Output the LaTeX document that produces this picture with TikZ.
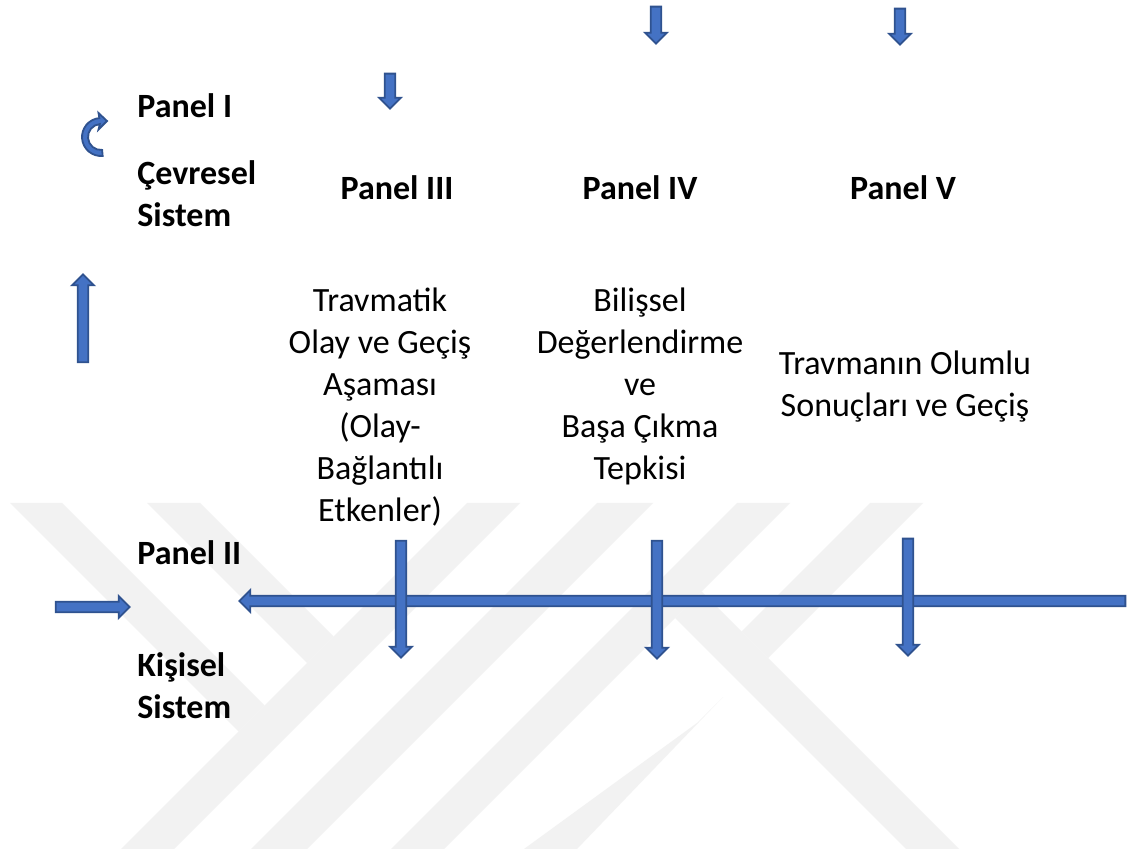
\documentclass[tikz,border=0pt]{standalone}
\usepackage{fontspec}
\setmainfont{Carlito}
\usetikzlibrary{shapes.arrows}
\definecolor{arrowfill}{HTML}{4472C4}
\definecolor{arrowline}{HTML}{2F528F}
\begin{document}
\begin{tikzpicture}[
  x=0.5pt, y=-0.5pt,
  font=\fontsize{17}{21}\selectfont,
  lbl/.style={inner sep=0pt, align=left, font=\fontsize{17}{21}\selectfont\bfseries},
  txt/.style={inner sep=0pt, align=center},
  blk/.style={single arrow, draw=arrowline, fill=arrowfill, line width=0.9pt,
              inner sep=2.2pt, single arrow head extend=2.8pt, outer sep=0pt},
  wm/.style={fill=black!5}
]
\useasboundingbox (0,0) rectangle (1129,849);
\fill[white] (0,0) rectangle (1129,849);
\fill[wm] (467,503) -- (520,503) -- (174,849) -- (121,849) -- cycle;
\fill[wm] (10,503) -- (62,503) -- (264.5,705.5) -- (238.5,731.5) -- cycle;
\fill[wm] (147,503) -- (200,503) -- (333.5,636.5) -- (307,663) -- cycle;
\fill[wm] (597,503) -- (653,503) -- (307,849) -- (251,849) -- cycle;
\fill[wm] (737,503) -- (790,503) -- (444,849) -- (391,849) -- cycle;
\fill[wm] (870,503) -- (923,503) -- (768,658) -- (741.5,631.5) -- cycle;
\fill[wm] (675,618) -- (701.5,591.5) -- (959,849) -- (906,849) -- cycle;
\fill[wm] (697,723) -- (723,697) -- (577,849) -- (524,849) -- cycle;
\draw[line width=0.9pt, draw=arrowline, fill=arrowfill]
  (102.66,155.93) arc[start angle=85, end angle=265, radius=19]
  -- (98.5,113) -- (107,121) -- (98.5,129.5) -- (99.87,124.05)
  arc[start angle=265, end angle=85, radius=13] -- cycle;
\node[lbl, anchor=base west] (p1) at (137,118) {Panel I};
\node[lbl, anchor=base west] (cevre) at (137,227) {Çevresel\\Sistem};
\node[lbl, anchor=base west] (p2) at (137,565) {Panel II};
\node[lbl, anchor=base west] (kisi) at (137,718) {Kişisel\\Sistem};
\node[lbl, anchor=base] (p3) at (397,200) {Panel III};
\node[lbl, anchor=base] (p4) at (640,200) {Panel IV};
\node[lbl, anchor=base] (p5) at (903,200) {Panel V};
\node[txt, anchor=base] (olay) at (380,522) {Travmatik\\Olay ve Geçiş\\Aşaması\\(Olay-\\Bağlantılı\\Etkenler)};
\node[txt, anchor=base] (bilis) at (640,480) {Bilişsel\\Değerlendirme\\ve\\Başa Çıkma\\Tepkisi};
\node[txt, anchor=base] (sonuc) at (905,417) {Travmanın Olumlu\\Sonuçları ve Geçiş};
\node[blk, minimum height=17.5pt, rotate=-90] (topa) at (390,88.5) {};
\node[blk, minimum height=18.5pt, rotate=-90] (topb) at (656,22.5) {};
\node[blk, minimum height=18pt, rotate=-90] (topc) at (900,24) {};
\node[blk, minimum height=44pt, rotate=90] (up) at (83,321) {};
\node[blk, minimum height=37pt] (right) at (90,607) {};
\node[blk, minimum height=443pt, rotate=180] (bar) at (685,601) {};
\node[blk, minimum height=58.5pt, rotate=-90] (downa) at (401,596.5) {};
\node[blk, minimum height=59pt, rotate=-90] (downb) at (657,597) {};
\node[blk, minimum height=58.5pt, rotate=-90] (downc) at (908,594.5) {};
\end{tikzpicture}
\end{document}
